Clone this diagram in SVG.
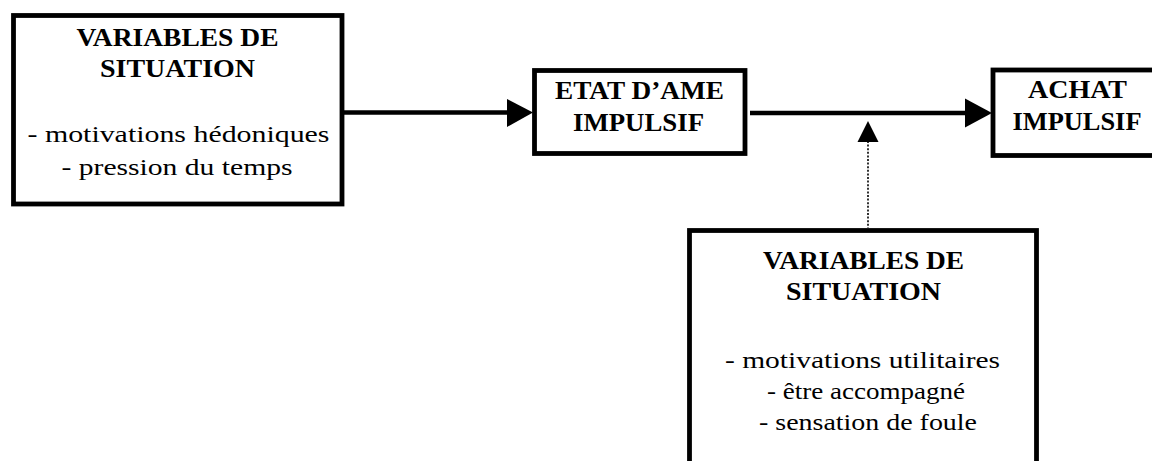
<svg xmlns="http://www.w3.org/2000/svg" width="1152" height="461" viewBox="0 0 1152 461">
<style>
.box{fill:#fff;stroke:#000;stroke-width:4.8}
.t{font-family:"Liberation Serif","Times New Roman",serif;font-size:24px;fill:#000;text-anchor:middle}
.b{font-weight:bold;font-size:25px}
.ln{stroke:#000;stroke-width:4.6;fill:none}
.dot{stroke:#000;stroke-width:1.6;stroke-dasharray:2 1.6;fill:none}
.head{fill:#000}
</style>
<rect width="1152" height="461" fill="#fff"/>
<g id="connectors">
<line class="ln" x1="342" y1="112.5" x2="509" y2="112.5"/>
<polygon class="head" points="507,99 533,112.5 507,127"/>
<line class="ln" x1="750" y1="113" x2="967" y2="113"/>
<polygon class="head" points="965,98.5 992,113 965,127.5"/>
<line class="dot" x1="868" y1="141" x2="868" y2="228"/>
<polygon class="head" points="857.5,142 868,121 878.5,142"/>
</g>
<g id="node-situation-hedonic">
<rect class="box" x="13.5" y="15.5" width="328.5" height="188.5"/>
<text class="t b" x="177.5" y="46" textLength="202" lengthAdjust="spacingAndGlyphs">VARIABLES DE</text>
<text class="t b" x="177.5" y="77" textLength="155" lengthAdjust="spacingAndGlyphs">SITUATION</text>
<text class="t" x="178.5" y="141.5" textLength="302" lengthAdjust="spacingAndGlyphs">- motivations hédoniques</text>
<text class="t" x="177" y="175" textLength="231" lengthAdjust="spacingAndGlyphs">- pression du temps</text>
</g>
<g id="node-etat">
<rect class="box" x="534.5" y="70.5" width="210.5" height="83"/>
<text class="t b" x="639.5" y="99" textLength="169" lengthAdjust="spacingAndGlyphs">ETAT D’AME</text>
<text class="t b" x="638.5" y="130.5" textLength="131" lengthAdjust="spacingAndGlyphs">IMPULSIF</text>
</g>
<g id="node-achat">
<rect class="box" x="993" y="70" width="175" height="85.5"/>
<text class="t b" x="1077.5" y="97.5" textLength="99" lengthAdjust="spacingAndGlyphs">ACHAT</text>
<text class="t b" x="1077" y="129.5" textLength="129" lengthAdjust="spacingAndGlyphs">IMPULSIF</text>
</g>
<g id="node-situation-utilitarian">
<rect class="box" x="689.5" y="230.5" width="347" height="250"/>
<text class="t b" x="863.5" y="268.5" textLength="201" lengthAdjust="spacingAndGlyphs">VARIABLES DE</text>
<text class="t b" x="863.5" y="299.5" textLength="155" lengthAdjust="spacingAndGlyphs">SITUATION</text>
<text class="t" x="862.5" y="368" textLength="275" lengthAdjust="spacingAndGlyphs">- motivations utilitaires</text>
<text class="t" x="866" y="399" textLength="198" lengthAdjust="spacingAndGlyphs">- être accompagné</text>
<text class="t" x="868" y="429.5" textLength="218" lengthAdjust="spacingAndGlyphs">- sensation de foule</text>
</g>
</svg>
